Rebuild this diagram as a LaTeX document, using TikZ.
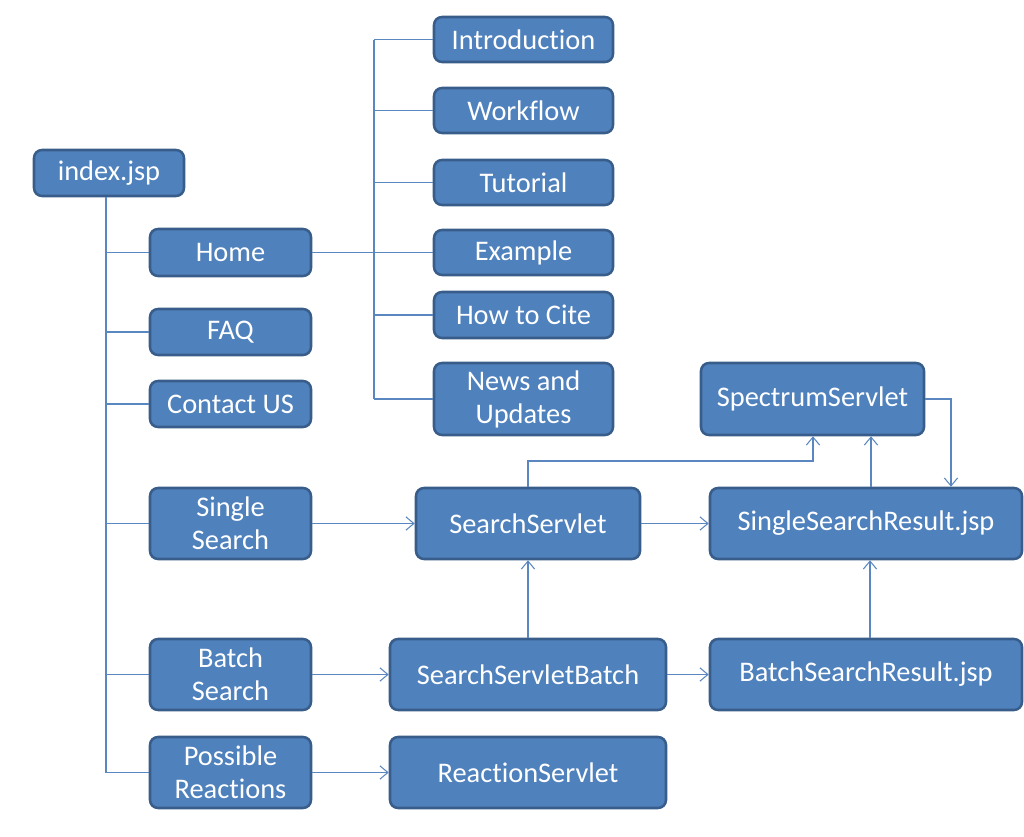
\documentclass[tikz,border=0pt]{standalone}
\usepackage{fontspec}
\setmainfont[Ligatures={NoCommon}]{Carlito}
\usetikzlibrary{arrows.meta}
\definecolor{boxfill}{HTML}{4F81BD}
\definecolor{boxline}{HTML}{385D8A}
\definecolor{conn}{HTML}{5B87C0}
\begin{document}
\begin{tikzpicture}[x=0.75pt,y=-0.75pt,
  box/.style={draw=boxline,fill=boxfill,line width=1.9pt,rounded corners=6pt,text=white,font=\fontsize{21.3}{24.7}\selectfont,align=center,inner sep=0pt},
  link/.style={draw=conn,line width=0.8pt},
  arr/.style={link,-{Straight Barb[length=6pt,width=10pt,line width=0.8pt]}}]
\useasboundingbox (0,0) rectangle (1024,837);
\newcommand{\bx}[6]{\node[box,minimum width={(#4-#2)*0.75pt},minimum height={(#5-#3)*0.75pt}] (#1) at ({(#2+#4)/2},{(#3+#5)/2}) {#6};}
\bx{index}{34}{150}{184}{196}{index.jsp}
\bx{home}{150}{229}{311}{276}{Home}
\bx{faq}{150}{309}{311}{355}{FAQ}
\bx{contact}{150}{381}{311}{427}{Contact US}
\bx{single}{150}{488}{311}{559}{Single\\Search}
\bx{batch}{150}{639}{311}{710}{Batch\\Search}
\bx{possible}{150}{737}{311}{808}{Possible\\Reactions}
\bx{intro}{434}{17}{613}{62}{Introduction}
\bx{workflow}{434}{88}{613}{133}{Workflow}
\bx{tutorial}{434}{160}{613}{205}{Tutorial}
\bx{example}{434}{230}{613}{275}{Example}
\bx{cite}{434}{292}{613}{338}{How to Cite}
\bx{news}{434}{363}{613}{435}{News and\\Updates}
\bx{spectrum}{701}{363}{924}{435}{SpectrumServlet}
\bx{search}{416}{488}{640}{559}{SearchServlet}
\bx{ssr}{710}{488}{1022}{559}{SingleSearchResult.jsp}
\bx{ssb}{390}{639}{666}{710}{SearchServletBatch}
\bx{bsr}{710}{639}{1022}{710}{BatchSearchResult.jsp}
\bx{reaction}{390}{737}{666}{808}{ReactionServlet}
% index tree
\coordinate (t0) at (106,196);
\coordinate (t1) at (106,773);
\draw[link] (index.south -| t0) -- (t1);
\foreach \n in {home,faq,contact,single,batch,possible}{\draw[link] (\n.west) -- (\n.west -| t0);}
% home tree
\coordinate (h0) at (374,40);
\coordinate (h1) at (374,399);
\draw[link] (home.east) -- (home.east -| h0);
\draw[link] (h0) -- (h1);
\foreach \n in {intro,workflow,tutorial,example,cite,news}{\draw[link] (\n.west) -- (\n.west -| h0);}
% arrows
\draw[arr] (single.east) -- (search.west);
\draw[arr] (batch.east) -- (ssb.west);
\draw[arr] (possible.east) -- (reaction.west);
\draw[arr] (search.east) -- (ssr.west);
\draw[arr] (ssb.east) -- (bsr.west);
\draw[arr] (ssb.north -| 528,0) -- (search.south -| 528,0);
\draw[arr] (bsr.north -| 870,0) -- (ssr.south -| 870,0);
\draw[arr] (search.north -| 528,0) |- (813,461) -- (spectrum.south -| 813,0);
\draw[arr] (ssr.north -| 871,0) -- (spectrum.south -| 871,0);
\draw[arr] (spectrum.east) -| (ssr.north -| 951,0);
\end{tikzpicture}
\end{document}
